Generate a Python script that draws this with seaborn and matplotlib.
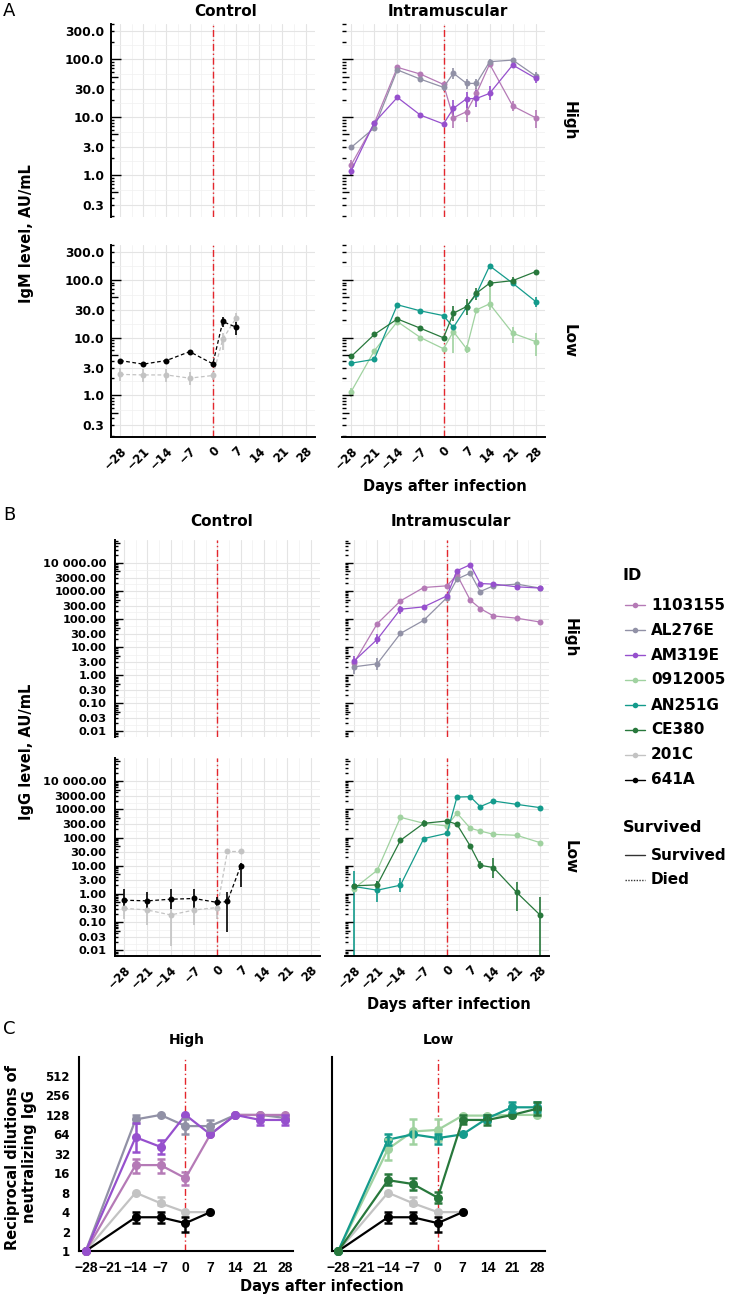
import numpy as np
import pandas as pd
import matplotlib
matplotlib.use("Agg")
import matplotlib.pyplot as plt
import seaborn as sns
from matplotlib.lines import Line2D
from matplotlib.ticker import NullFormatter, NullLocator

nan = np.nan

# ---------------- data ----------------
IDS = ["1103155", "AL276E", "AM319E", "0912005", "AN251G", "CE380", "201C", "641A"]
ID_COLORS = ["#B57AB6", "#9191A6", "#9650CD", "#A0D2A0", "#149B8C", "#28783C", "#C3C3C3", "#000000"]
SURVIVAL = ["Survived", "Survived", "Survived", "Survived", "Survived", "Survived", "Died", "Died"]
HIGH_IDS = ["1103155", "AL276E", "AM319E"]
LOW_IDS = ["0912005", "AN251G", "CE380"]
CONTROL_IDS = ["201C", "641A"]

DAYS_IM = [-28, -21, -14, -7, 0, 3, 7, 10, 14, 21, 28]
DAYS_CTRL = [-28, -21, -14, -7, 0, 3, 7]
DAYS_NEUT = [-28, -14, -7, 0, 7, 14, 21, 28]
DAYS_NEUT_CTRL = [-28, -14, -7, 0, 7]

X_TICKS = [-28, -21, -14, -7, 0, 7, 14, 21, 28]
X_TICK_LABELS = ["\u221228", "\u221221", "\u221214", "\u22127", "0", "7", "14", "21", "28"]
IGM_TICKS = [0.3, 1, 3, 10, 30, 100, 300]
IGM_TICK_LABELS = ["0.3", "1.0", "3.0", "10.0", "30.0", "100.0", "300.0"]
IGG_TICKS = [0.01, 0.03, 0.1, 0.3, 1, 3, 10, 30, 100, 300, 1000, 3000, 10000]
IGG_TICK_LABELS = ["0.01", "0.03", "0.10", "0.30", "1.00", "3.00", "10.00", "30.00",
                   "100.00", "300.00", "1000.00", "3000.00", "10 000.00"]
NEUT_TICKS = [1, 2, 4, 8, 16, 32, 64, 128, 256, 512]
NEUT_TICK_LABELS = ["1", "2", "4", "8", "16", "32", "64", "128", "256", "512"]

# IgM, AU/mL (panel A)
IGM_1103155    = [1.5, 7.8, 72, 55, 36.5, 9.7, 12.4, 25.6, 82, 15.5, 9.7]
IGM_1103155_LO = [1.3, nan, nan, nan, nan, 6.4, 8.3, 20, 72, 12.5, 6.4]
IGM_1103155_HI = [1.8, nan, nan, nan, nan, 15.1, 18.4, 32, 92, 19, 13.2]
IGM_AL276E     = [3.0, 6.5, 65, 45, 32.5, 57, 38, 38, 90, 96, 51]
IGM_AL276E_LO  = [nan, nan, nan, nan, 28, 46, 31, 31, 80, 88, 43]
IGM_AL276E_HI  = [nan, nan, nan, nan, 37, 69, 46, 46, 100, 105, 60]
IGM_AM319E     = [1.19, 8.0, 21.8, 10.8, 7.6, 14.1, 20.7, 20.9, 25.6, 79, 46.5]
IGM_AM319E_LO  = [1.0, nan, nan, nan, nan, 10.1, 14.1, 15, 19.6, 70, 38]
IGM_AM319E_HI  = [1.39, nan, nan, nan, nan, 19.6, 27.4, 29, 34, 88, 53]
IGM_0912005    = [1.16, 5.9, 18.9, 10, 6.4, 12.7, 6.4, 30.2, 38.4, 11.9, 8.5]
IGM_0912005_LO = [0.95, nan, nan, nan, nan, 5.5, 5.4, nan, 30, 8, 4.7]
IGM_0912005_HI = [1.33, nan, nan, nan, nan, 16, 7.5, nan, 88, 15.5, 11.9]
IGM_AN251G     = [3.6, 4.2, 37, 29, 24, 15, 33.7, 57, 175, 87.5, 42]
IGM_AN251G_LO  = [nan, nan, nan, nan, nan, nan, nan, nan, nan, 80, 33.7]
IGM_AN251G_HI  = [nan, nan, nan, nan, nan, nan, nan, nan, nan, 95, 51]
IGM_CE380      = [4.7, 11.3, 21, 14.5, 9.9, 26.4, 34.5, 58.8, 87.5, 97, 139]
IGM_CE380_LO   = [nan, nan, nan, nan, nan, 19.7, 24.7, 45, 75, 82, nan]
IGM_CE380_HI   = [nan, nan, nan, nan, nan, 35, 46, 72, 100, 111, nan]
IGM_201C       = [2.3, 2.25, 2.25, 1.98, 2.2, 9.4, 21.7]
IGM_201C_LO    = [1.8, 1.73, 1.73, 1.51, 1.85, 6.1, 17.8]
IGM_201C_HI    = [2.95, 2.84, 2.84, 2.57, 2.57, 11.9, 26.5]
IGM_641A       = [4.0, 3.46, 4.0, 5.7, 3.5, 19, 15.1]
IGM_641A_LO    = [nan, nan, nan, 5.2, nan, 15.5, 11.1]
IGM_641A_HI    = [nan, nan, nan, 6.2, nan, 23, 18.9]

# IgG, AU/mL (panel B)
IGG_1103155    = [2.78, 69, 448, 1340, 1540, 3820, 474, 239, 130, 108, 79]
IGG_1103155_LO = [nan] * 11
IGG_1103155_HI = [nan] * 11
IGG_AL276E     = [2.0, 2.56, 31, 91, 590, 2670, 4380, 964, 1540, 1770, 1280]
IGG_AL276E_LO  = [1.07, 1.6, nan, nan, nan, nan, nan, nan, nan, nan, nan]
IGG_AL276E_HI  = [3.2, 4.2, nan, nan, nan, nan, nan, nan, nan, nan, nan]
IGG_AM319E     = [3.2, 19, 226, 274, 676, 5300, 8700, 1860, 1770, 1420, 1280]
IGG_AM319E_LO  = [2.1, 12.6, 157, nan, nan, nan, nan, nan, nan, nan, nan]
IGG_AM319E_HI  = [4.8, 29, 297, nan, nan, nan, nan, nan, nan, nan, nan]
IGG_0912005    = [1.56, 6.9, 520, 320, 257, 740, 213, 171, 130, 120, 66]
IGG_0912005_LO = [nan] * 11
IGG_0912005_HI = [nan] * 11
IGG_AN251G     = [1.84, 1.36, 2.05, 92, 141, 2720, 2800, 1250, 1970, 1500, 1150]
IGG_AN251G_LO  = [0.001, 0.5, 1.13, nan, nan, nan, nan, nan, nan, nan, nan]
IGG_AN251G_HI  = [6.6, 2.9, 3.8, nan, nan, nan, nan, nan, nan, nan, nan]
IGG_CE380      = [1.94, 2.1, 80, 320, 386, 294, 50, 10.4, 8.6, 1.13, 0.18]
IGG_CE380_LO   = [nan, 1.48, nan, 245, nan, nan, nan, 7.5, 3.8, 0.25, 0.001]
IGG_CE380_HI   = [nan, 2.9, nan, 417, nan, nan, nan, 14.8, 19.5, 2.7, 0.75]
IGG_201C       = [0.31, 0.27, 0.18, 0.27, 0.33, 32, 32]
IGG_201C_LO    = [0.128, 0.08, 0.014, 0.08, 0.128, nan, nan]
IGG_201C_HI    = [0.65, 0.65, 0.73, 0.65, 0.73, nan, nan]
IGG_641A       = [0.60, 0.57, 0.65, 0.69, 0.5, 0.54, 9.9]
IGG_641A_LO    = [0.25, 0.29, 0.29, 0.29, 0.29, 0.043, 1.7]
IGG_641A_HI    = [1.48, 1.13, 1.48, 1.48, 0.81, 1.13, 13]

# Reciprocal dilutions of neutralizing IgG (panel C)
NEUT_1103155    = [1, 21.4, 21.4, 13.4, 64, 128, 128, 128]
NEUT_1103155_LO = [nan, 16, 16, 10.5, nan, nan, nan, nan]
NEUT_1103155_HI = [nan, 27, 27, 17, nan, nan, nan, nan]
NEUT_AL276E     = [1, 109, 128, 86, 86, 128, 128, 115]
NEUT_AL276E_LO  = [nan, 95, nan, 64, 75, nan, nan, nan]
NEUT_AL276E_HI  = [nan, 128, nan, 109, 107, nan, nan, nan]
NEUT_AM319E     = [1, 57.7, 41, 128, 64, 128, 107, 107]
NEUT_AM319E_LO  = [nan, 34, 32, nan, nan, nan, 90, 90]
NEUT_AM319E_HI  = [nan, 95, 52, nan, nan, nan, 128, 128]
NEUT_0912005    = [1, 38, 71, 75, 125, 125, 128, 128]
NEUT_0912005_LO = [nan, 26, 45, 50, nan, nan, nan, nan]
NEUT_0912005_HI = [nan, 55, 110, 110, nan, nan, nan, nan]
NEUT_AN251G     = [1, 53, 64, 56, 64, 114, 168, 168]
NEUT_AN251G_LO  = [nan, 44, nan, 45, nan, 100, 140, 140]
NEUT_AN251G_HI  = [nan, 64, nan, 66, nan, 128, 200, 200]
NEUT_CE380      = [1, 12.5, 10.9, 6.7, 107, 107, 128, 160]
NEUT_CE380_LO   = [nan, 10.7, 8.8, 5.6, 94, 90, nan, 128]
NEUT_CE380_HI   = [nan, 15.6, 13.4, 8.1, 128, 128, nan, 200]
NEUT_201C       = [1, 8, 5.5, 4, 4]
NEUT_201C_LO    = [nan, nan, 5.2, nan, nan]
NEUT_201C_HI    = [nan, nan, 6.9, nan, nan]
NEUT_641A       = [1, 3.33, 3.33, 2.7, 4]
NEUT_641A_LO    = [nan, 2.75, 2.75, 2.0, nan]
NEUT_641A_HI    = [nan, 4, 4, 3.4, nan]

# lookup tables built from the lists above
COLOR_OF = dict(zip(IDS, ID_COLORS))
SURV_OF = dict(zip(IDS, SURVIVAL))
IGM = {
    "1103155": (IGM_1103155, IGM_1103155_LO, IGM_1103155_HI),
    "AL276E": (IGM_AL276E, IGM_AL276E_LO, IGM_AL276E_HI),
    "AM319E": (IGM_AM319E, IGM_AM319E_LO, IGM_AM319E_HI),
    "0912005": (IGM_0912005, IGM_0912005_LO, IGM_0912005_HI),
    "AN251G": (IGM_AN251G, IGM_AN251G_LO, IGM_AN251G_HI),
    "CE380": (IGM_CE380, IGM_CE380_LO, IGM_CE380_HI),
    "201C": (IGM_201C, IGM_201C_LO, IGM_201C_HI),
    "641A": (IGM_641A, IGM_641A_LO, IGM_641A_HI),
}
IGG = {
    "1103155": (IGG_1103155, IGG_1103155_LO, IGG_1103155_HI),
    "AL276E": (IGG_AL276E, IGG_AL276E_LO, IGG_AL276E_HI),
    "AM319E": (IGG_AM319E, IGG_AM319E_LO, IGG_AM319E_HI),
    "0912005": (IGG_0912005, IGG_0912005_LO, IGG_0912005_HI),
    "AN251G": (IGG_AN251G, IGG_AN251G_LO, IGG_AN251G_HI),
    "CE380": (IGG_CE380, IGG_CE380_LO, IGG_CE380_HI),
    "201C": (IGG_201C, IGG_201C_LO, IGG_201C_HI),
    "641A": (IGG_641A, IGG_641A_LO, IGG_641A_HI),
}
NEUT = {
    "1103155": (NEUT_1103155, NEUT_1103155_LO, NEUT_1103155_HI),
    "AL276E": (NEUT_AL276E, NEUT_AL276E_LO, NEUT_AL276E_HI),
    "AM319E": (NEUT_AM319E, NEUT_AM319E_LO, NEUT_AM319E_HI),
    "0912005": (NEUT_0912005, NEUT_0912005_LO, NEUT_0912005_HI),
    "AN251G": (NEUT_AN251G, NEUT_AN251G_LO, NEUT_AN251G_HI),
    "CE380": (NEUT_CE380, NEUT_CE380_LO, NEUT_CE380_HI),
    "201C": (NEUT_201C, NEUT_201C_LO, NEUT_201C_HI),
    "641A": (NEUT_641A, NEUT_641A_LO, NEUT_641A_HI),
}

# ---------------- style ----------------
sns.set_style("white")
plt.rcParams["font.family"] = ["DejaVu Sans"]
plt.rcParams["font.weight"] = "bold"
plt.rcParams["axes.unicode_minus"] = True
plt.rcParams["text.color"] = "black"
plt.rcParams["axes.labelcolor"] = "black"
plt.rcParams["xtick.color"] = "black"
plt.rcParams["ytick.color"] = "black"

W, H = 731, 1299
fig = plt.figure(figsize=(W / 100, H / 100), dpi=100)
fig.patch.set_facecolor("white")

RED = "#E4262C"
RED_LS = (0, (5, 2, 1, 2))


def px_ax(l, t, r, b):
    return fig.add_axes([l / W, 1 - b / H, (r - l) / W, (b - t) / H])


def ftext(x, y, s, **kw):
    kw.setdefault("color", "black")
    fig.text(x / W, 1 - y / H, s, **kw)


def log_ticks(ax, ymin, ymax, width_px, long_px, mid_px, short_px):
    trans = ax.get_yaxis_transform()
    e0 = int(np.floor(np.log10(ymin)))
    e1 = int(np.ceil(np.log10(ymax)))
    for e in range(e0, e1 + 1):
        for s in range(1, 10):
            y = s * 10.0 ** e
            if y < ymin or y > ymax:
                continue
            L = long_px if s == 1 else (mid_px if s == 5 else short_px)
            ax.plot([0, L / width_px], [y, y], transform=trans, color="black",
                    lw=1.0, solid_capstyle="butt", clip_on=False, zorder=4)


def draw_ab(ax, ids, table, days):
    for pid in ids:
        vals, lo, hi = table[pid]
        color = COLOR_OF[pid]
        died = SURV_OF[pid] == "Died"
        df = pd.DataFrame({"day": days, "value": vals, "lo": lo, "hi": hi})
        e = df.dropna(subset=["lo"])
        if len(e):
            ax.vlines(e["day"], e["lo"], e["hi"], color=color, lw=1.2, zorder=2)
        sns.lineplot(data=df, x="day", y="value", ax=ax, color=color,
                     linestyle=(0, (3, 2)) if died else "-", linewidth=0.9,
                     marker="o", markersize=4.3, markeredgewidth=0,
                     estimator=None, errorbar=None, legend=False, zorder=3)
    ax.set_xlabel("")
    ax.set_ylabel("")


def style_ab(ax, ylim, ticks, labels, is_ctrl, is_bottom, width_px,
             ylabsize, ylabpad, long_px, mid_px, short_px):
    ax.set_yscale("log")
    ax.set_xlim(-30.8, 30.8)
    ax.set_ylim(*ylim)
    ax.set_yticks(ticks, labels=labels if is_ctrl else [""] * len(ticks))
    t = np.array(ticks, dtype=float)
    ax.set_yticks(np.sqrt(t[:-1] * t[1:]), minor=True)
    ax.yaxis.set_minor_formatter(NullFormatter())
    if is_bottom:
        ax.set_xticks(X_TICKS, labels=X_TICK_LABELS, rotation=45, ha="right",
                      va="top", rotation_mode="anchor")
    else:
        ax.set_xticks(X_TICKS, labels=[""] * len(X_TICKS))
    ax.set_xticks(np.arange(-24.5, 25, 7), minor=True)
    ax.grid(True, which="major", color="#E4E4E4", lw=0.8)
    ax.grid(True, which="minor", color="#F0F0F0", lw=0.5)
    ax.set_axisbelow(True)
    ax.tick_params(which="minor", length=0)
    for sp in ax.spines.values():
        sp.set_visible(False)
    if is_ctrl:
        ax.spines["left"].set_visible(True)
        ax.spines["left"].set_color("black")
        ax.spines["left"].set_linewidth(1.4)
        ax.tick_params(axis="y", which="major", direction="out", length=3.6,
                       width=1.1, color="black", labelsize=ylabsize, pad=ylabpad,
                       labelcolor="black")
    else:
        ax.tick_params(axis="y", which="major", length=0, labelleft=False)
    if is_bottom:
        ax.spines["bottom"].set_visible(True)
        ax.spines["bottom"].set_color("black")
        ax.spines["bottom"].set_linewidth(1.4)
        ax.tick_params(axis="x", which="major", direction="out", length=4,
                       width=1.1, color="black", labelsize=8.5, pad=1.5,
                       labelcolor="black")
    else:
        ax.tick_params(axis="x", which="major", length=0, labelbottom=False)
    ax.axvline(0, color=RED, lw=1.0, ls=RED_LS, zorder=1.5)
    log_ticks(ax, ylim[0], ylim[1], width_px, long_px, mid_px, short_px)


# ---------------- panel A: IgM ----------------
A_YLIM = (0.189, 402)
a_boxes = {
    ("ctrl", "High"): (110.7, 24, 315, 217),
    ("im", "High"): (342, 24, 545, 217),
    ("ctrl", "Low"): (110.7, 245, 315, 437),
    ("im", "Low"): (342, 245, 545, 437),
}
for (grp, dose), box in a_boxes.items():
    ax = px_ax(*box)
    ax.set_yscale("log")
    if grp == "ctrl":
        ids = CONTROL_IDS if dose == "Low" else []
        draw_ab(ax, ids, IGM, DAYS_CTRL)
    else:
        ids = HIGH_IDS if dose == "High" else LOW_IDS
        draw_ab(ax, ids, IGM, DAYS_IM)
    style_ab(ax, A_YLIM, IGM_TICKS, IGM_TICK_LABELS, grp == "ctrl", dose == "Low",
             box[2] - box[0], 8.8, 1.0, 10.5, 7, 3.5)

# ---------------- panel B: IgG ----------------
B_YLIM = (10 ** -2.2, 10 ** 4.82)
b_boxes = {
    ("ctrl", "High"): (114.7, 540, 320, 737),
    ("im", "High"): (344.7, 540, 549.3, 737),
    ("ctrl", "Low"): (114.7, 758, 320, 956),
    ("im", "Low"): (344.7, 758, 549.3, 956),
}
for (grp, dose), box in b_boxes.items():
    ax = px_ax(*box)
    ax.set_yscale("log")
    if grp == "ctrl":
        ids = CONTROL_IDS if dose == "Low" else []
        draw_ab(ax, ids, IGG, DAYS_CTRL)
    else:
        ids = HIGH_IDS if dose == "High" else LOW_IDS
        draw_ab(ax, ids, IGG, DAYS_IM)
    style_ab(ax, B_YLIM, IGG_TICKS, IGG_TICK_LABELS, grp == "ctrl", dose == "Low",
             box[2] - box[0], 8.2, 2.5, 8.5, 5.5, 3)

# ---------------- panel C: neutralizing ----------------
c_boxes = {"High": (79, 1057, 293, 1251), "Low": (331.5, 1057, 545, 1251)}
c_order = {"High": ["201C", "641A", "AL276E", "1103155", "AM319E"],
           "Low": ["201C", "641A", "0912005", "AN251G", "CE380"]}
for dose, box in c_boxes.items():
    ax = px_ax(*box)
    ax.set_yscale("log", base=2)
    for pid in c_order[dose]:
        vals, lo, hi = NEUT[pid]
        days = DAYS_NEUT_CTRL if pid in CONTROL_IDS else DAYS_NEUT
        color = COLOR_OF[pid]
        df = pd.DataFrame({"day": days, "value": vals, "lo": lo, "hi": hi})
        sns.lineplot(data=df, x="day", y="value", ax=ax, color=color, linewidth=1.6,
                     marker="o", markersize=6.5, markeredgewidth=0, clip_on=False,
                     estimator=None, errorbar=None, legend=False, zorder=3)
        e = df.dropna(subset=["lo"])
        if len(e):
            ax.errorbar(e["day"], e["value"],
                        yerr=[e["value"] - e["lo"], e["hi"] - e["value"]],
                        fmt="none", ecolor=color, elinewidth=1.8, capsize=3.2,
                        capthick=1.8, zorder=3.5)
    ax.set_xlabel("")
    ax.set_ylabel("")
    ax.set_xlim(-29.9, 30.2)
    ax.set_ylim(1, 1010)
    ax.set_yticks(NEUT_TICKS, labels=NEUT_TICK_LABELS if dose == "High" else [""] * len(NEUT_TICKS))
    ax.yaxis.set_minor_locator(NullLocator())
    ax.set_xticks(X_TICKS, labels=X_TICK_LABELS, fontfamily="Liberation Sans",
                  fontsize=10, fontweight="bold")
    ax.xaxis.set_minor_locator(NullLocator())
    ax.grid(False)
    for s in ["top", "right"]:
        ax.spines[s].set_visible(False)
    for s in ["left", "bottom"]:
        ax.spines[s].set_color("black")
        ax.spines[s].set_linewidth(1.5)
    ax.tick_params(axis="both", direction="out", length=4.5, width=1.4, color="black",
                   labelcolor="black")
    ax.tick_params(axis="y", labelsize=8.5, pad=2)
    ax.tick_params(axis="x", pad=2.5)
    ax.axvline(0, color=RED, lw=1.0, ls=RED_LS, zorder=1.5)

# ---------------- texts ----------------
ftext(3, 11, "A", fontsize=13, fontweight="normal", ha="left", va="center")
ftext(3, 515, "B", fontsize=13, fontweight="normal", ha="left", va="center")
ftext(3, 1029, "C", fontsize=13, fontweight="normal", ha="left", va="center")

ftext(226, 11, "Control", fontsize=11, ha="center", va="center")
ftext(448, 11, "Intramuscular", fontsize=11, ha="center", va="center")
ftext(222, 522, "Control", fontsize=11, ha="center", va="center")
ftext(451, 522, "Intramuscular", fontsize=11, ha="center", va="center")

ftext(569, 121, "High", fontsize=11, rotation=270, ha="center", va="center")
ftext(569, 341, "Low", fontsize=11, rotation=270, ha="center", va="center")
ftext(570, 638, "High", fontsize=11, rotation=270, ha="center", va="center")
ftext(570, 857, "Low", fontsize=11, rotation=270, ha="center", va="center")

ftext(26, 234, "IgM level, AU/mL", fontsize=10.5, rotation=90, ha="center", va="center")
ftext(26, 752, "IgG level, AU/mL", fontsize=10.5, rotation=90, ha="center", va="center")
ftext(21, 1157, "Reciprocal dilutions of\nneutralizing IgG", fontsize=10.5, rotation=90,
      ha="center", va="center", multialignment="center", linespacing=1.15)

ftext(445, 487, "Days after infection", fontsize=10.5, ha="center", va="center")
ftext(449, 1004, "Days after infection", fontsize=10.5, ha="center", va="center")
ftext(322, 1287, "Days after infection", fontsize=10.5, ha="center", va="center")

ftext(187, 1040, "High", fontsize=10, ha="center", va="center")
ftext(438, 1040, "Low", fontsize=10, ha="center", va="center")

# ---------------- legend ----------------
def fig_line(x0, x1, y, **kw):
    fig.add_artist(Line2D([x0 / W, x1 / W], [1 - y / H, 1 - y / H],
                          transform=fig.transFigure, **kw))

ftext(623, 575, "ID", fontsize=11.5, ha="left", va="center")
for i, pid in enumerate(IDS):
    y = 605 + 25 * i
    fig_line(625, 645, y, color=COLOR_OF[pid], lw=1.0)
    fig.add_artist(Line2D([635 / W], [1 - y / H], transform=fig.transFigure,
                          marker="o", markersize=4, markeredgewidth=0,
                          color=COLOR_OF[pid], lw=0))
    ftext(651, y, pid, fontsize=11, ha="left", va="center")

ftext(623, 828, "Survived", fontsize=11.5, ha="left", va="center")
fig_line(625, 645, 855, color="#333333", lw=1.0)
ftext(651, 855, "Survived", fontsize=11, ha="left", va="center")
fig_line(625, 645, 880, color="#333333", lw=1.0, ls=(0, (1, 1)))
ftext(651, 880, "Died", fontsize=11, ha="left", va="center")

fig.savefig("out.png", dpi=100, facecolor="white")
